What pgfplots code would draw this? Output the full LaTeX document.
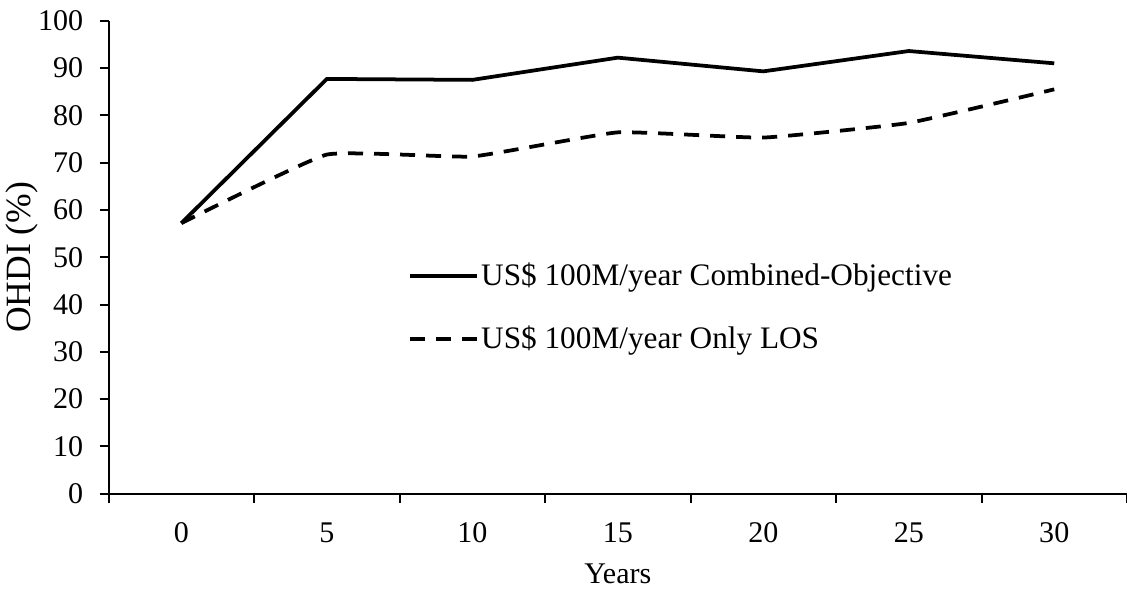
\documentclass[border=0pt]{standalone}
\usepackage{pgfplots}
\pgfplotsset{compat=1.18}
\usetikzlibrary{calc}
\usepackage{fontspec}
\setmainfont{Liberation Serif}

\pgfplotstableread{
year combined onlylos
0    57.2  57.2
5    87.7  71.7
10   87.5  71.3
15   92.2  76.4
20   89.3  75.3
25   93.6  78.4
30   91.0  85.5
}\ohdi

\begin{document}
\begin{tikzpicture}
\begin{axis}[
  name=ax,
  scale only axis, width=407pt, height=189pt,
  xmin=-2.5, xmax=32.5, ymin=0, ymax=100,
  axis x line*=bottom, axis y line*=left,
  x axis line style={-}, y axis line style={-},
  axis line style={line width=0.8pt, black},
  xtick={0,5,...,30},
  minor xtick={-2.5,2.5,...,32.5},
  ytick={0,10,...,100},
  tick align=outside,
  major x tick style={draw=none},
  tick style={line width=0.8pt, black},
  major tick length=3.6pt, minor tick length=3.6pt,
  /pgf/number format/assume math mode=true,
  ticklabel style={font=\fontsize{12}{14}\selectfont},
  xticklabel style={yshift=-4.5pt},
  yticklabel style={xshift=-3pt},
  xlabel={Years}, ylabel={OHDI (\%)},
  xlabel style={font=\fontsize{12}{14}\selectfont, inner sep=0pt,
    at={(axis description cs:0.5,-0.19)}, anchor=base},
  ylabel style={font=\fontsize{14.2}{17}\selectfont, inner sep=0pt,
    at={(axis description cs:-0.0848,0.5)}, anchor=center},
  legend style={at={(rel axis cs:0.286,0.505)}, anchor=north west,
    draw=none, fill=none, font=\fontsize{12.5}{15}\selectfont,
    row sep=12.7pt, nodes={inner sep=1pt}},
  legend cell align=left,
  legend image code/.code={\draw[#1] (0pt,0pt) -- (26.8pt,0pt);},
]
\addplot[black, line width=1.5pt] table[x=year, y=combined] {\ohdi};
\addlegendentry{US\$ 100M/year Combined-Objective}
\addplot[black, line width=1.5pt, dash pattern=on 6pt off 4.4pt, smooth, tension=0.22] table[x=year, y=onlylos] {\ohdi};
\addlegendentry{US\$ 100M/year Only LOS}
\end{axis}
\pgfresetboundingbox
\path[use as bounding box] ($(ax.south west)+(-43.4pt,-38pt)$) rectangle ($(ax.north east)+(0pt,8.3pt)$);
\end{tikzpicture}
\end{document}
